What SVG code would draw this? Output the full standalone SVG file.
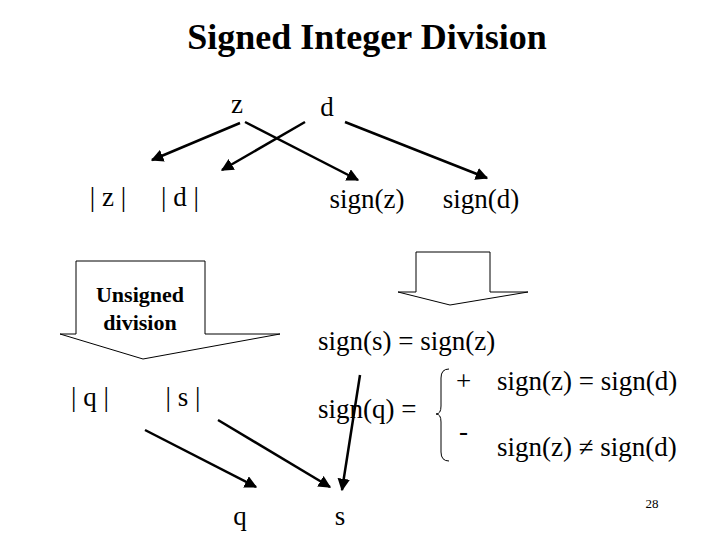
<svg xmlns="http://www.w3.org/2000/svg" width="720" height="540" viewBox="0 0 720 540" font-family="'Liberation Serif','Times New Roman','DejaVu Serif',serif">
<style>
text{font-family:'Liberation Serif','Times New Roman','DejaVu Serif',serif;font-size:27px;fill:#000}
.c line{stroke:#000;stroke-width:2.5;marker-end:url(#ah)}
.bg{fill:#fff;stroke:#000;stroke-width:1}
</style>
<defs><marker id="ah" viewBox="0 0 10 10" refX="9" refY="5" markerWidth="5" markerHeight="5" orient="auto"><path d="M0,0L10,5L0,10z" fill="#000"/></marker></defs>
<rect width="720" height="540" fill="#fff"/>
<text x="367" y="49" text-anchor="middle" style="font-size:36px;font-weight:bold">Signed Integer Division</text>
<g id="z"><text x="237" y="113" text-anchor="middle">z</text></g>
<g id="d"><text x="327" y="116" text-anchor="middle">d</text></g>
<g id="absz"><text x="108" y="206" text-anchor="middle">| z |</text></g>
<g id="absd"><text x="180" y="206" text-anchor="middle">| d |</text></g>
<g id="signz"><text x="367" y="208" text-anchor="middle">sign(z)</text></g>
<g id="signd"><text x="481" y="208" text-anchor="middle">sign(d)</text></g>
<g id="unsigned"><path class="bg" d="M76,261H205V334H280L143,359L60,334H76Z"/>
<text x="140" y="302" text-anchor="middle" style="font-size:22px;font-weight:bold">Unsigned</text>
<text x="140" y="330" text-anchor="middle" style="font-size:22px;font-weight:bold">division</text></g>
<g id="signarrow"><path class="bg" d="M416,252H490V292H528L450,305L398,292H416Z"/></g>
<g id="absq"><text x="90" y="406" text-anchor="middle">| q |</text></g>
<g id="abss"><text x="183" y="406" text-anchor="middle">| s |</text></g>
<g id="signs"><text x="318" y="350">sign(s) = sign(z)</text></g>
<g id="signq"><text x="318" y="418">sign(q) =</text>
<path d="M449,369Q441,369 441,378V406Q441,414 436,414Q441,414 441,422V452Q441,461 449,461" fill="none" stroke="#000" stroke-width="1"/>
<text x="456" y="390">+</text><text x="497" y="390">sign(z) = sign(d)</text>
<text x="459" y="440">-</text><text x="497" y="456">sign(z) ≠ sign(d)</text></g>
<g id="q"><text x="240" y="525" text-anchor="middle">q</text></g>
<g id="s"><text x="340" y="525" text-anchor="middle">s</text></g>
<text x="652" y="508" text-anchor="middle" style="font-size:13px">28</text>
<g class="c">
<line x1="240" y1="123" x2="152" y2="160"/>
<line x1="245" y1="122" x2="358" y2="180"/>
<line x1="305" y1="122" x2="222" y2="170"/>
<line x1="345" y1="122" x2="487" y2="178"/>
<line x1="145" y1="430" x2="256" y2="487"/>
<line x1="218" y1="420" x2="330" y2="487"/>
<line x1="360" y1="375" x2="342" y2="490"/>
</g>
</svg>
